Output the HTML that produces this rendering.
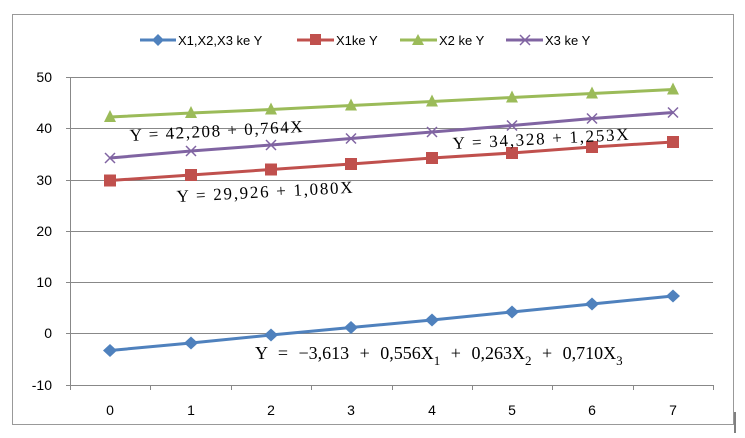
<!DOCTYPE html>
<html><head><style>body{margin:0;background:#fff}svg{display:block}</style></head><body>
<svg width="745" height="438" xmlns="http://www.w3.org/2000/svg" font-family="Liberation Sans, sans-serif">
<rect x="12.5" y="14.5" width="721" height="410" fill="#fff" stroke="#999"/>
<line x1="735" y1="412" x2="735" y2="433" stroke="#000"/>
<g stroke="#888" stroke-width="1">
<line x1="70" y1="77.5" x2="713" y2="77.5"/><line x1="70" y1="128.5" x2="713" y2="128.5"/><line x1="70" y1="180.5" x2="713" y2="180.5"/><line x1="70" y1="231.5" x2="713" y2="231.5"/><line x1="70" y1="282.5" x2="713" y2="282.5"/><line x1="70" y1="333.5" x2="713" y2="333.5"/><line x1="70" y1="385.5" x2="713" y2="385.5"/>
<line x1="70.5" y1="77" x2="70.5" y2="390"/>
<line x1="66" y1="77.5" x2="70" y2="77.5"/><line x1="66" y1="128.5" x2="70" y2="128.5"/><line x1="66" y1="180.5" x2="70" y2="180.5"/><line x1="66" y1="231.5" x2="70" y2="231.5"/><line x1="66" y1="282.5" x2="70" y2="282.5"/><line x1="66" y1="333.5" x2="70" y2="333.5"/><line x1="66" y1="385.5" x2="70" y2="385.5"/>
<line x1="150.5" y1="385" x2="150.5" y2="390"/><line x1="231.5" y1="385" x2="231.5" y2="390"/><line x1="311.5" y1="385" x2="311.5" y2="390"/><line x1="392.5" y1="385" x2="392.5" y2="390"/><line x1="472.5" y1="385" x2="472.5" y2="390"/><line x1="552.5" y1="385" x2="552.5" y2="390"/><line x1="633.5" y1="385" x2="633.5" y2="390"/><line x1="713.5" y1="385" x2="713.5" y2="390"/>
</g>
<g font-size="14" fill="#000" text-anchor="end">
<text x="52" y="82">50</text><text x="52" y="133">40</text><text x="52" y="185">30</text><text x="52" y="236">20</text><text x="52" y="287">10</text><text x="52" y="338">0</text><text x="52" y="390">-10</text>
</g>
<g font-size="14" fill="#000" text-anchor="middle">
<text x="110" y="415">0</text><text x="191" y="415">1</text><text x="271" y="415">2</text><text x="351" y="415">3</text><text x="432" y="415">4</text><text x="512" y="415">5</text><text x="592" y="415">6</text><text x="673" y="415">7</text>
</g>
<polyline fill="none" stroke="#9bbb59" stroke-width="3" points="110,117 191,113 271,109.5 351,105.5 432,101.5 512,97.5 592,93.5 673,89.5"/>
<g fill="#9bbb59">
<polygon points="110,110 116,122 104,122"/><polygon points="191,106 197,118 185,118"/><polygon points="271,102.5 277,114.5 265,114.5"/><polygon points="351,98.5 357,110.5 345,110.5"/><polygon points="432,94.5 438,106.5 426,106.5"/><polygon points="512,90.5 518,102.5 506,102.5"/><polygon points="592,86.5 598,98.5 586,98.5"/><polygon points="673,82.5 679,94.5 667,94.5"/>
</g>
<polyline fill="none" stroke="#8064a2" stroke-width="3" points="110,158 191,151 271,145 351,138.5 432,132 512,125.5 592,118.5 673,112.5"/>
<g stroke="#8064a2" stroke-width="1.5">
<path d="M105,153l10,10M115,153l-10,10M186,146l10,10M196,146l-10,10M266,140l10,10M276,140l-10,10M346,133.5l10,10M356,133.5l-10,10M427,127l10,10M437,127l-10,10M507,120.5l10,10M517,120.5l-10,10M587,113.5l10,10M597,113.5l-10,10M668,107.5l10,10M678,107.5l-10,10"/>
</g>
<polyline fill="none" stroke="#c0504d" stroke-width="3" points="110,180.5 191,175 271,169.5 351,164 432,158 512,153 592,147 673,142"/>
<g fill="#c0504d">
<rect x="104" y="174.5" width="12" height="12"/><rect x="185" y="169" width="12" height="12"/><rect x="265" y="163.5" width="12" height="12"/><rect x="345" y="158" width="12" height="12"/><rect x="426" y="152" width="12" height="12"/><rect x="506" y="147" width="12" height="12"/><rect x="586" y="141" width="12" height="12"/><rect x="667" y="136" width="12" height="12"/>
</g>
<polyline fill="none" stroke="#4f81bd" stroke-width="3" points="110,350.5 191,343 271,335 351,327.5 432,320 512,312 592,304 673,296"/>
<g fill="#4f81bd">
<polygon points="110,344 117,350.5 110,357 103,350.5"/><polygon points="191,336.5 198,343 191,349.5 184,343"/><polygon points="271,328.5 278,335 271,341.5 264,335"/><polygon points="351,321 358,327.5 351,334 344,327.5"/><polygon points="432,313.5 439,320 432,326.5 425,320"/><polygon points="512,305.5 519,312 512,318.5 505,312"/><polygon points="592,297.5 599,304 592,310.5 585,304"/><polygon points="673,289.5 680,296 673,302.5 666,296"/>
</g>
<g font-family="Liberation Serif, serif" font-size="17" fill="#000">
<text x="130" y="141" transform="rotate(-3 130 141)" textLength="173" lengthAdjust="spacing">Y = 42,208 + 0,764X</text>
<text x="453" y="149" transform="rotate(-3 453 149)" textLength="176" lengthAdjust="spacing">Y = 34,328 + 1,253X</text>
<text x="177" y="202" transform="rotate(-3 177 202)" textLength="176" lengthAdjust="spacing">Y = 29,926 + 1,080X</text>
<text x="255" y="359" font-size="18" word-spacing="6">Y = −3,613 + 0,556X<tspan font-size="13" dy="6">1</tspan><tspan dy="-6"> + 0,263X</tspan><tspan font-size="13" dy="6">2</tspan><tspan dy="-6"> + 0,710X</tspan><tspan font-size="13" dy="6">3</tspan></text>
</g>
<g font-size="13" fill="#000">
<line x1="140" y1="40" x2="176" y2="40" stroke="#4f81bd" stroke-width="3"/><polygon points="158,34 164,40 158,46 152,40" fill="#4f81bd"/>
<text x="178" y="45">X1,X2,X3 ke Y</text>
<line x1="297" y1="40" x2="334" y2="40" stroke="#c0504d" stroke-width="3"/><rect x="310" y="34" width="11" height="11" fill="#c0504d"/>
<text x="336" y="45">X1ke Y</text>
<line x1="400" y1="40" x2="437" y2="40" stroke="#9bbb59" stroke-width="3"/><polygon points="418,34 424,45 412,45" fill="#9bbb59"/>
<text x="439" y="45">X2 ke Y</text>
<line x1="506" y1="40" x2="543" y2="40" stroke="#8064a2" stroke-width="3"/><path d="M520,35l10,10M530,35l-10,10" stroke="#8064a2" stroke-width="1.5"/>
<text x="545" y="45">X3 ke Y</text>
</g>
</svg>
</body></html>
